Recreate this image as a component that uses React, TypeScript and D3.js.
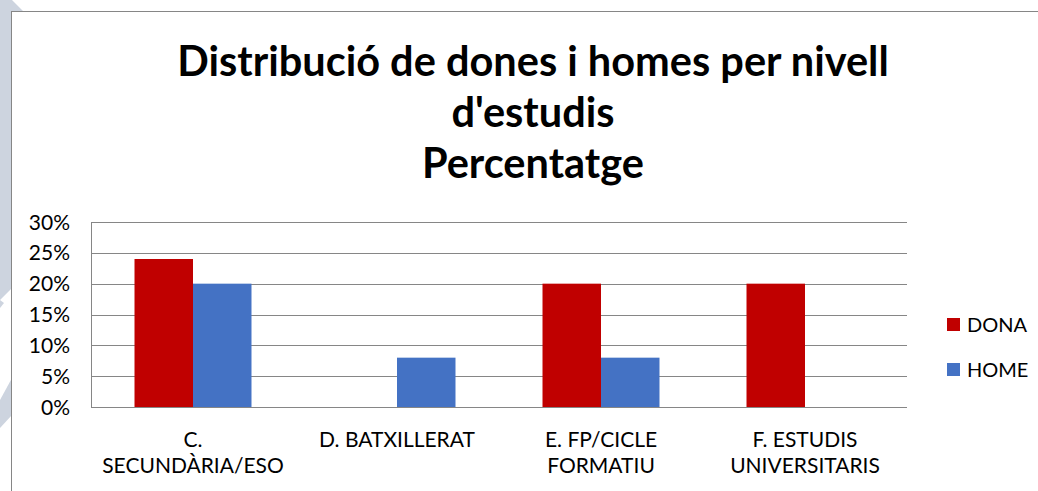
import React from "react";
import * as d3 from "d3";

const categories = ["C.|SECUNDÀRIA/ESO", "D. BATXILLERAT", "E. FP/CICLE|FORMATIU", "F. ESTUDIS|UNIVERSITARIS"];
const seriesNames = ["DONA", "HOME"];
const donaValues = [24, 0, 20, 20];
const homeValues = [20, 8, 8, 0];
const yTicks = [0, 5, 10, 15, 20, 25, 30];
const titleLines = ["Distribució de dones i homes per nivell", "d'estudis", "Percentatge"];
const colors = ["#C00000", "#4472C4"];

const W = 1038;
const H = 491;
const plot = { left: 91, right: 907, top: 222, bottom: 407 };
const FONT = "Lato, 'Open Sans', sans-serif";

export default function App() {
  const x0 = d3
    .scaleBand<string>()
    .domain(categories)
    .range([plot.left, plot.right])
    .paddingInner(0.4265)
    .paddingOuter(0.21325);
  const x1 = d3.scaleBand<string>().domain(seriesNames).range([0, x0.bandwidth()]).padding(0);
  const y = d3.scaleLinear().domain([0, 30]).range([plot.bottom, plot.top]);
  const seriesValues = [donaValues, homeValues];
  const fmt = (d: number) => `${d}%`;

  return (
    <svg width={W} height={H} style={{ position: "absolute", left: 0, top: 0, display: "block" }}>
      <rect x={0} y={0} width={W} height={H} fill="#ffffff" />
      {/* left decoration strip */}
      <polygon points="0,0 12,0 23,11 12,11 12,288 0,300" fill="#cdd4df" />
      <polygon points="0,300 4,303 0,308" fill="#cdd4df" />
      <polygon points="12,378 12,415 0,428 0,400" fill="#cdd4df" />
      {/* chart area */}
      <rect x={11.5} y={11.5} width={W + 10} height={H + 10} fill="#ffffff" stroke="#868686" strokeWidth={1} />

      {/* title */}
      {titleLines.map((t, i) => (
        <text
          key={i}
          x={533}
          y={76 + i * 51}
          textAnchor="middle"
          fontFamily={FONT}
          fontWeight={700}
          fontSize={41.5}
          fill="#000000"
        >
          {t}
        </text>
      ))}

      {/* gridlines */}
      {yTicks.map((t) => (
        <line key={t} x1={plot.left} x2={plot.right} y1={Math.round(y(t)) + 0.5} y2={Math.round(y(t)) + 0.5} stroke="#868686" strokeWidth={1} />
      ))}
      <line x1={plot.left + 0.5} x2={plot.left + 0.5} y1={plot.top} y2={plot.bottom + 0.5} stroke="#868686" strokeWidth={1} />

      {/* y tick labels */}
      {yTicks.map((t) => (
        <text key={t} x={70} y={y(t)} dy="0.36em" textAnchor="end" fontFamily={FONT} fontSize={21} fill="#000000">
          {fmt(t)}
        </text>
      ))}

      {/* bars */}
      {categories.map((c, ci) => (
        <g key={c} transform={`translate(${x0(c)},0)`}>
          {seriesNames.map((s, si) => {
            const v = seriesValues[si][ci];
            if (!v) return null;
            return (
              <rect
                key={s}
                x={x1(s)}
                y={y(v)}
                width={x1.bandwidth()}
                height={y(0) - y(v)}
                fill={colors[si]}
              />
            );
          })}
        </g>
      ))}

      {/* x labels */}
      {categories.map((c) => {
        const cx = (x0(c) as number) + x0.bandwidth() / 2;
        return (
          <text key={c} x={cx} y={447} textAnchor="middle" fontFamily={FONT} fontSize={21} fill="#000000">
            {c.split("|").map((line, li) => (
              <tspan key={li} x={cx} dy={li === 0 ? 0 : 26}>
                {line}
              </tspan>
            ))}
          </text>
        );
      })}

      {/* legend */}
      {seriesNames.map((s, i) => (
        <g key={s} transform={`translate(947,${318 + i * 45})`}>
          <rect x={0} y={0} width={13} height={13} fill={colors[i]} />
          <text x={20} y={6.5} dy="0.36em" fontFamily={FONT} fontSize={20} fill="#000000">
            {s}
          </text>
        </g>
      ))}
    </svg>
  );
}
